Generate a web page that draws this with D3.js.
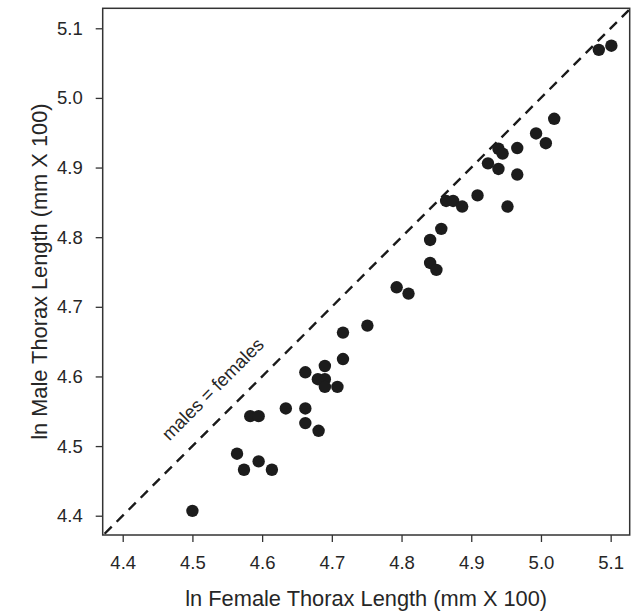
<!DOCTYPE html>
<html>
<head>
<meta charset="utf-8">
<script src="https://cdn.jsdelivr.net/npm/d3@7"></script>
<style>
  body { margin: 0; background: #fff; }
  text { font-family: "Liberation Sans", Arial, Helvetica, sans-serif; fill: #262626; }
</style>
</head>
<body>
<div id="chart"></div>
<script>
// ln female thorax length (x) and ln male thorax length (y)
var female = [4.500, 4.564, 4.574, 4.583, 4.595, 4.595, 4.614, 4.634, 4.662, 4.662,
              4.662, 4.681, 4.680, 4.690, 4.690, 4.690, 4.708, 4.716, 4.716, 4.751,
              4.793, 4.810, 4.841, 4.841, 4.850, 4.857, 4.864, 4.874, 4.887, 4.909,
              4.924, 4.939, 4.939, 4.945, 4.952, 4.966, 4.966, 4.993, 5.007, 5.019,
              5.083, 5.101];
var male   = [4.407, 4.489, 4.466, 4.543, 4.543, 4.478, 4.466, 4.554, 4.606, 4.554,
              4.533, 4.522, 4.596, 4.615, 4.596, 4.585, 4.585, 4.625, 4.663, 4.673,
              4.728, 4.719, 4.796, 4.763, 4.753, 4.812, 4.852, 4.852, 4.844, 4.860,
              4.906, 4.898, 4.927, 4.920, 4.844, 4.928, 4.890, 4.949, 4.935, 4.970,
              5.069, 5.075];
var ticks = [4.4, 4.5, 4.6, 4.7, 4.8, 4.9, 5.0, 5.1];
var lineLabel = "males = females";
var lineLabelAt = [4.529, 4.582];

var width = 633, height = 614;
var margin = {top: 8.3, right: 3.3, bottom: 79, left: 102.7};
var w = width - margin.left - margin.right,
    h = height - margin.top - margin.bottom;

var svg = d3.select("#chart").append("svg")
    .attr("width", width)
    .attr("height", height);

var g = svg.append("g")
    .attr("transform", "translate(" + margin.left + "," + margin.top + ")");

var x = d3.scaleLinear().domain([4.3713, 5.1273]).range([0, w]);
var y = d3.scaleLinear().domain([4.3723, 5.1287]).range([h, 0]);

g.append("clipPath").attr("id", "clip")
  .append("rect").attr("width", w).attr("height", h);

// 1:1 reference line
var lo = Math.max(x.domain()[0], y.domain()[0]),
    hi = Math.min(x.domain()[1], y.domain()[1]);
g.append("line")
    .attr("clip-path", "url(#clip)")
    .attr("x1", x(lo - 0.05)).attr("y1", y(lo - 0.05))
    .attr("x2", x(hi + 0.05)).attr("y2", y(hi + 0.05))
    .style("stroke", "#1a1a1a")
    .style("stroke-width", 2.4)
    .style("stroke-dasharray", "10,7");

g.append("text")
    .attr("transform", "translate(" + x(lineLabelAt[0]) + "," + y(lineLabelAt[1]) + ") rotate(-45)")
    .attr("text-anchor", "middle")
    .attr("dominant-baseline", "central")
    .style("font-size", "18.5px")
    .text(lineLabel);

g.selectAll("circle")
  .data(female)
  .enter()
  .append("circle")
    .attr("cx", function(d) { return x(d); })
    .attr("cy", function(d, i) { return y(male[i]); })
    .attr("r", 6.2)
    .style("fill", "#1c1c1c");

// axes
var xAxis = g.append("g")
    .attr("transform", "translate(0," + h + ")")
    .call(d3.axisBottom(x).tickValues(ticks).tickSize(7).tickPadding(14)
      .tickFormat(d3.format(".1f")));
var yAxis = g.append("g")
    .call(d3.axisLeft(y).tickValues(ticks).tickSize(7).tickPadding(13)
      .tickFormat(d3.format(".1f")));

[xAxis, yAxis].forEach(function(a) {
  a.select(".domain").remove();
  a.selectAll(".tick line").style("stroke", "#333").style("stroke-width", 1.3);
  a.selectAll(".tick text").style("font-size", "18.5px")
    .style("font-family", "Liberation Sans, Arial, sans-serif").style("fill", "#262626");
});

g.append("rect")
    .attr("width", w).attr("height", h)
    .style("fill", "none")
    .style("stroke", "#333")
    .style("stroke-width", 1.5);

svg.append("text")
    .attr("x", margin.left + w / 2)
    .attr("y", 606)
    .attr("text-anchor", "middle")
    .style("font-size", "21.8px")
    .text("ln Female Thorax Length (mm X 100)");

svg.append("text")
    .attr("transform", "translate(47," + (margin.top + h / 2) + ") rotate(-90)")
    .attr("text-anchor", "middle")
    .style("font-size", "21.8px")
    .text("ln Male Thorax Length (mm X 100)");
</script>
</body>
</html>
